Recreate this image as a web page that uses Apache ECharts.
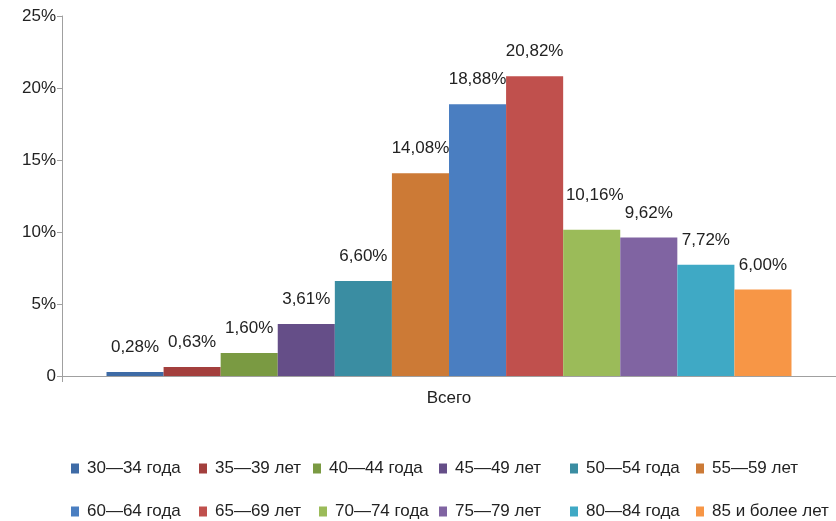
<!DOCTYPE html>
<html>
<head>
<meta charset="utf-8">
<script src="https://cdn.jsdelivr.net/npm/echarts@6/dist/echarts.min.js"></script>
<style>
  html, body { margin: 0; padding: 0; background: #fff; }
  #chart { width: 836px; height: 521px; }
</style>
</head>
<body>
<div id="chart"></div>
<script>
// Age-group shares (percent of total)
const categories = ['Всего'];
const ageGroups = ['30—34 года', '35—39 лет', '40—44 года', '45—49 лет', '50—54 года', '55—59 лет',
                   '60—64 года', '65—69 лет', '70—74 года', '75—79 лет', '80—84 года', '85 и более лет'];
const shares = [0.28, 0.63, 1.60, 3.61, 6.60, 14.08, 18.88, 20.82, 10.16, 9.62, 7.72, 6.00];
const colors = ['#3E6BA6', '#A33F3D', '#7A9A42', '#654E88', '#3A8DA2', '#CC7A36',
                '#4A7EC1', '#C0504D', '#9BBB59', '#8064A2', '#3FA9C5', '#F79646'];

const FONT = '"Liberation Sans", Arial, Helvetica, sans-serif';

// legend slot positions: two rows of six
const legendLeft = [71, 199, 313, 439, 570, 696, 71, 199, 319, 439, 570, 696];
const legendTop = [460, 460, 460, 460, 460, 460, 503, 503, 503, 503, 503, 503];

const labelOffset = ageGroups.map(() => [0, 0]);
labelOffset[8] = [3, -10];

const series = ageGroups.map((name, i) => ({
  name: name,
  type: 'bar',
  data: [shares[i]],
  barGap: '0%',
  barCategoryGap: '11.5%',
  itemStyle: { color: colors[i] },
  label: {
    show: true,
    position: 'top',
    distance: 16,
    offset: labelOffset[i],
    color: '#222',
    fontSize: 17,
    fontFamily: FONT,
    formatter: p => p.value.toFixed(2).replace('.', ',') + '%'
  }
}));

const legends = ageGroups.map((name, i) => ({
  data: [name],
  left: legendLeft[i],
  top: legendTop[i],
  itemWidth: 8,
  itemHeight: 10,
  padding: 0,
  icon: 'rect',
  textStyle: { color: '#222', fontSize: 17, fontFamily: FONT, padding: [0, 0, 0, 3] }
}));

const chart = echarts.init(document.getElementById('chart'), null, { renderer: 'canvas' });
chart.setOption({
  animation: false,
  backgroundColor: '#fff',
  color: colors,
  grid: { left: 62, right: 0, top: 16, bottom: 145, containLabel: false },
  legend: legends,
  xAxis: {
    type: 'category',
    data: categories,
    axisLine: { lineStyle: { color: '#a0a0a0', width: 1 } },
    axisTick: { show: true, length: 6, lineStyle: { color: '#a0a0a0' } },
    axisLabel: { color: '#222', fontSize: 17, fontFamily: FONT, margin: 14 }
  },
  yAxis: {
    type: 'value',
    min: 0,
    max: 25,
    interval: 5,
    axisLine: { show: true, lineStyle: { color: '#a0a0a0', width: 1 } },
    axisTick: { show: true, length: 5, lineStyle: { color: '#a0a0a0' } },
    splitLine: { show: false },
    axisLabel: {
      color: '#222', fontSize: 17, fontFamily: FONT, margin: 6,
      formatter: v => v === 0 ? '0' : v + '%'
    }
  },
  series: series
});
</script>
</body>
</html>
